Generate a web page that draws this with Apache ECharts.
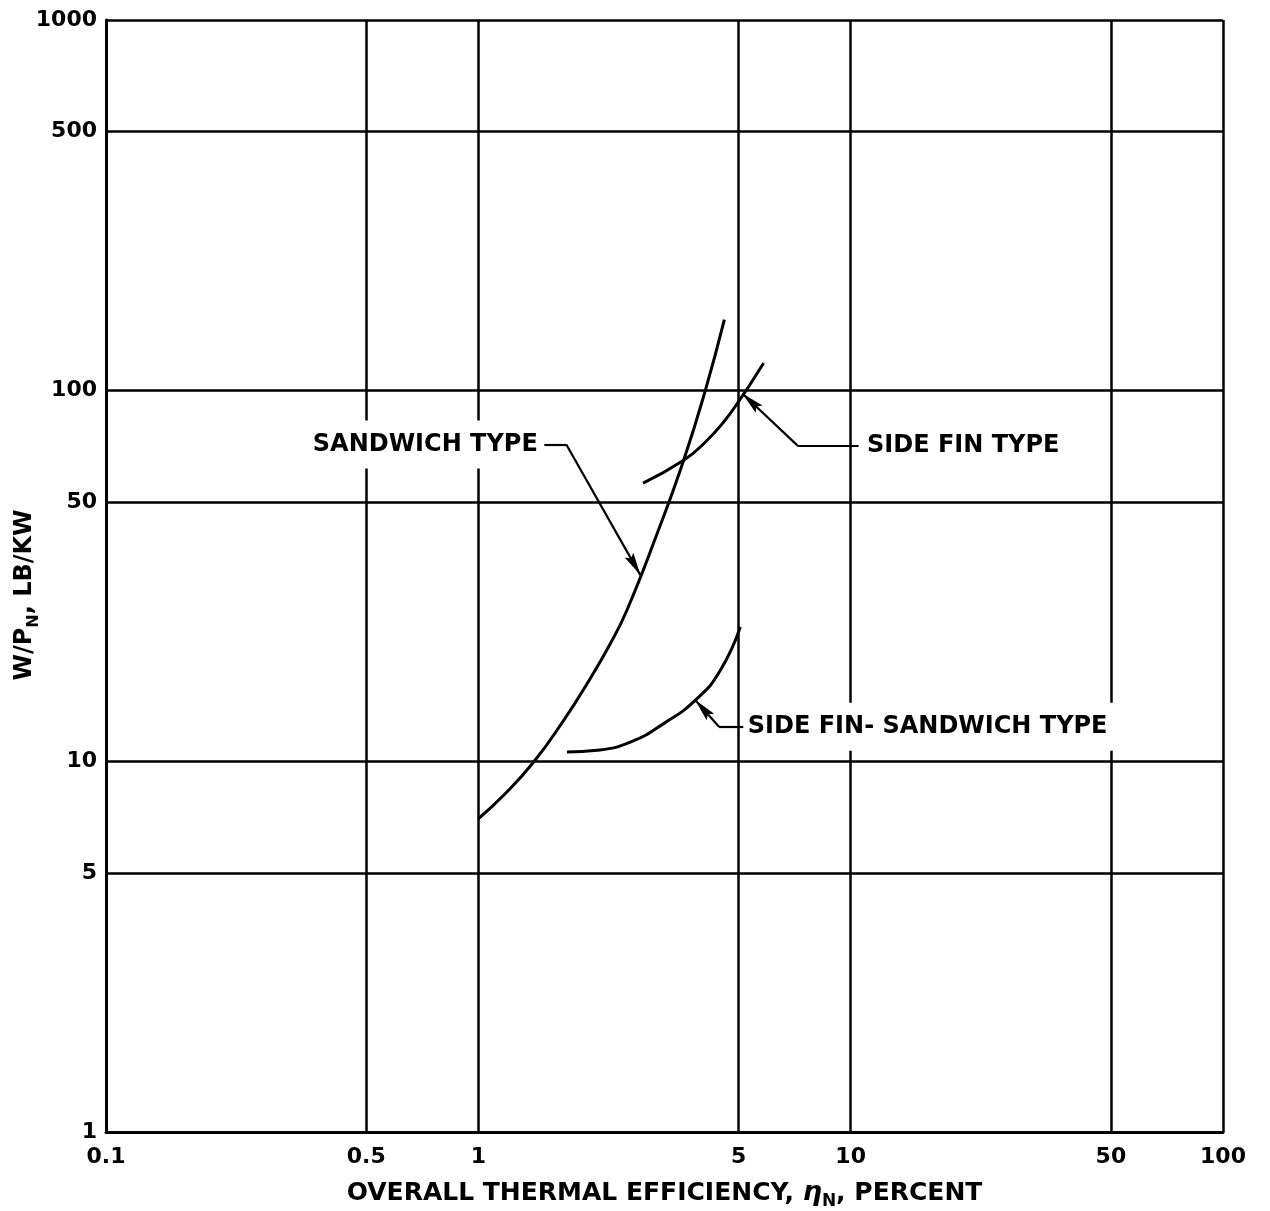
<!DOCTYPE html>
<html><head><meta charset="utf-8">
<script src="https://cdn.jsdelivr.net/npm/echarts@6/dist/echarts.min.js"></script>
<style>html,body{margin:0;padding:0;background:#fff}#c{width:1270px;height:1211px}</style>
</head><body><div id="c"></div>
<script>
// Tick values / labels
const xTickValues = [0.1, 0.5, 1, 5, 10, 50, 100];
const xTickLabels = ['0.1', '0.5', '1', '5', '10', '50', '100'];
const yTickValues = [1, 5, 10, 50, 100, 500, 1000];
const yTickLabels = ['1', '5', '10', '50', '100', '500', '1000'];

// Curves (efficiency %, W/P lb/kW)
const sandwichX = [1.0, 1.169, 1.408, 1.695, 1.959, 2.263, 2.508, 3.020, 3.560, 4.071, 4.579];
const sandwichY = [7.00, 8.10, 9.96, 12.9, 16.2, 20.8, 25.6, 41.1, 64.9, 100.2, 155.5];
const sideFinX = [2.770, 3.560, 4.029, 4.559, 5.109, 5.490, 5.839];
const sideFinY = [56.3, 64.9, 71.9, 82.3, 96.5, 107.7, 118.7];
const sideFinSandwichX = [1.730, 2.084, 2.560, 3.146, 3.868, 4.467, 5.054];
const sideFinSandwichY = [10.59, 10.71, 11.27, 12.64, 14.76, 17.60, 23.03];

// Annotation labels
const annoNames = ['SANDWICH TYPE', 'SIDE FIN TYPE', 'SIDE FIN- SANDWICH TYPE'];
const annoAnchorX = [1.504, 10.5, 5.149];
const annoAnchorY = [71.6, 71.2, 12.4];
const annoSide = ['left', 'right', 'right'];
// Leader lines: start (at label), elbow, arrow tip
const leaderStartX = [1.504, 10.5, 5.149];
const leaderStartY = [71.6, 71.2, 12.4];
const leaderElbowX = [1.723, 7.19, 4.43];
const leaderElbowY = [71.6, 71.2, 12.4];
const leaderTipX = [2.724, 5.118, 3.82];
const leaderTipY = [31.8, 98.3, 14.65];

const pairs = (xs, ys) => xs.map((x, i) => [x, ys[i]]);
const FONT = 'DejaVu Sans';

const curveStyle = { color: '#000', width: 3 };
function curve(name, xs, ys) {
  return {
    name, type: 'line', data: pairs(xs, ys), smooth: 0.5,
    showSymbol: false, symbol: 'none', lineStyle: curveStyle, itemStyle: { color: '#000' },
    silent: true, z: 5
  };
}

const chart = echarts.init(document.getElementById('c'), null, { renderer: 'canvas' });
chart.setOption({
  backgroundColor: '#fff',
  animation: false,
  tooltip: { show: false },
  grid: { left: 106, right: 47, top: 20, bottom: 79, containLabel: false, outerBoundsMode: 'none' },
  xAxis: {
    type: 'log', logBase: 10, min: 0.1, max: 100,
    name: 'OVERALL THERMAL EFFICIENCY, {eta|η}{sub|N}, PERCENT',
    nameLocation: 'middle', nameGap: 44, nameMoveOverlap: false,
    nameTextStyle: {
      fontFamily: FONT, fontWeight: 'bold', fontSize: 25, color: '#000', lineHeight: 34,
      rich: {
        eta: { fontFamily: FONT, fontWeight: 'bold', fontStyle: 'italic', fontSize: 27, lineHeight: 34, color: '#000' },
        sub: { fontFamily: FONT, fontWeight: 'bold', fontSize: 17, lineHeight: 34, verticalAlign: 'bottom', color: '#000' }
      }
    },
    axisLine: { show: true, lineStyle: { color: '#000', width: 3 } },
    axisTick: { show: false, customValues: xTickValues },
    axisLabel: {
      customValues: xTickValues, margin: 14,
      fontFamily: FONT, fontWeight: 'bold', fontSize: 22, color: '#000',
      formatter: v => { const i = xTickValues.findIndex(t => Math.abs(t - v) / t < 1e-6); return i >= 0 ? xTickLabels[i] : ''; }
    },
    splitLine: { show: true, lineStyle: { color: '#000', width: 2.5 } }
  },
  yAxis: {
    type: 'log', logBase: 10, min: 1, max: 1000,
    name: 'W/P{sub|N}, LB/KW',
    nameLocation: 'middle', nameGap: 64, nameMoveOverlap: false,
    nameTextStyle: {
      fontFamily: FONT, fontWeight: 'bold', fontSize: 24, color: '#000', lineHeight: 34,
      padding: [0, 38, 0, 0],
      rich: {
        sub: { fontFamily: FONT, fontWeight: 'bold', fontSize: 16, lineHeight: 34, verticalAlign: 'bottom', color: '#000' }
      }
    },
    axisLine: { show: true, lineStyle: { color: '#000', width: 3 } },
    axisTick: { show: false, customValues: yTickValues },
    axisLabel: {
      customValues: yTickValues, margin: 9,
      fontFamily: FONT, fontWeight: 'bold', fontSize: 22, color: '#000',
      formatter: v => { const i = yTickValues.findIndex(t => Math.abs(t - v) / t < 1e-6); return i >= 0 ? yTickLabels[i] : ''; }
    },
    splitLine: { show: true, lineStyle: { color: '#000', width: 2.5 } }
  },
  series: [
    curve('SANDWICH TYPE', sandwichX, sandwichY),
    curve('SIDE FIN TYPE', sideFinX, sideFinY),
    curve('SIDE FIN- SANDWICH TYPE', sideFinSandwichX, sideFinSandwichY),
    {
      type: 'lines', coordinateSystem: 'cartesian2d', silent: true, z: 6,
      symbol: ['none', 'none'],
      lineStyle: { color: '#000', width: 2.2, opacity: 1 },
      data: leaderStartX.map((x, i) => ({ coords: [[x, leaderStartY[i]], [leaderElbowX[i], leaderElbowY[i]]] }))
    },
    {
      type: 'lines', coordinateSystem: 'cartesian2d', silent: true, z: 6,
      symbol: ['none', 'path://M5,0L5,0M5,24L10,48L5,44L0,48Z'],
      symbolSize: [0, [10, 46]],
      lineStyle: { color: '#000', width: 2.2, opacity: 1 },
      data: leaderElbowX.map((x, i) => ({ coords: [[x, leaderElbowY[i]], [leaderTipX[i], leaderTipY[i]]] }))
    },
    {
      type: 'scatter', silent: true, z: 7,
      symbolSize: 1, itemStyle: { color: 'rgba(0,0,0,0)', opacity: 1 },
      data: annoNames.map((n, i) => ({
        name: n, value: [annoAnchorX[i], annoAnchorY[i]],
        label: {
          show: true, position: annoSide[i], distance: 0, formatter: '{b}', opacity: 1,
          fontFamily: FONT, fontWeight: 'bold', fontSize: 24, color: '#000',
          backgroundColor: '#fff',
          padding: annoSide[i] === 'left' ? [12, 6, 12, 6] : (i === 1 ? [12, 6, 12, 8] : [12, 10, 12, 4])
        }
      }))
    }
  ]
});
</script></body></html>
